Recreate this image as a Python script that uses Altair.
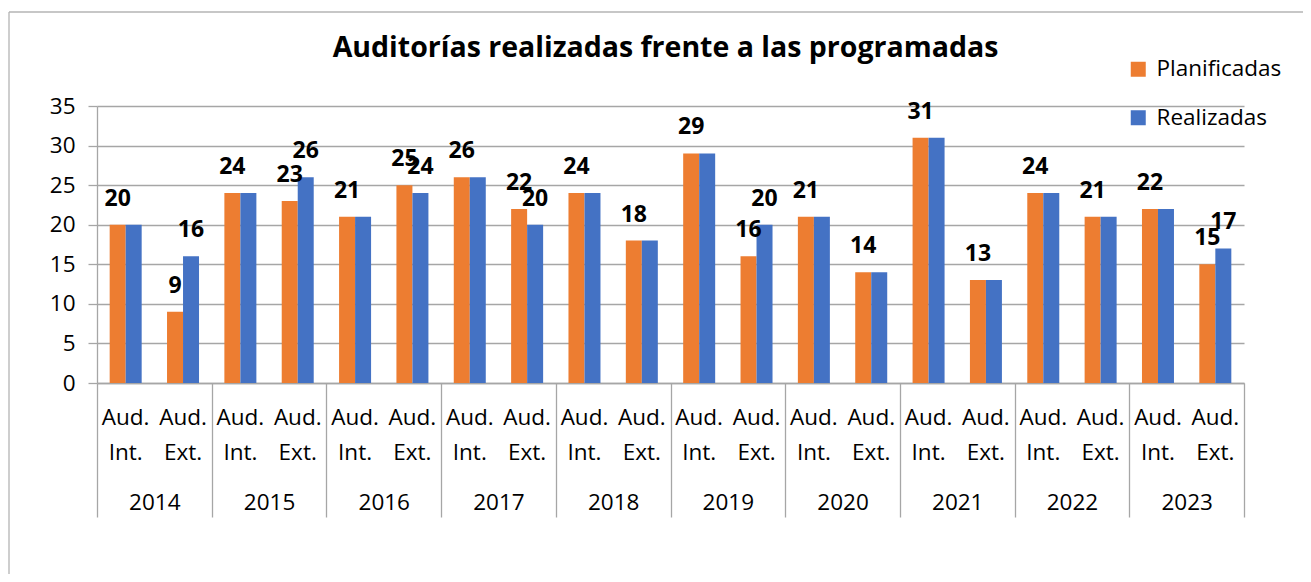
import altair as alt
import pandas as pd

years = ["2014", "2015", "2016", "2017", "2018", "2019", "2020", "2021", "2022", "2023"]
tipos = ["Aud. Int.", "Aud. Ext."]
series = ["Planificadas", "Realizadas"]
colors = ["#ED7D31", "#4472C4"]
y_ticks = [0, 5, 10, 15, 20, 25, 30, 35]

plan_int = [20, 24, 21, 26, 24, 29, 21, 31, 24, 22]
plan_ext = [9, 23, 25, 22, 18, 16, 14, 13, 21, 15]
real_int = [20, 24, 21, 26, 24, 29, 21, 31, 24, 22]
real_ext = [16, 26, 24, 20, 18, 20, 14, 13, 21, 17]

rows = []
cat_order = []
for i, yr in enumerate(years):
    for tipo, p, r in [(tipos[0], plan_int[i], real_int[i]), (tipos[1], plan_ext[i], real_ext[i])]:
        cat = f"{yr}|{tipo}"
        cat_order.append(cat)
        rows.append({"cat": cat, "year": yr, "serie": series[0], "value": p, "show": True})
        rows.append({"cat": cat, "year": yr, "serie": series[1], "value": r, "show": r != p})
df = pd.DataFrame(rows)
year_df = pd.DataFrame({"year": years})

W, H = 1147, 277
FONT = "Open Sans"
GRID = "#a6a6a6"

x_cat = alt.X(
    "cat:N", sort=cat_order,
    scale=alt.Scale(paddingInner=0.442, paddingOuter=0.221),
    axis=alt.Axis(title=None, orient="bottom",
                  labelExpr="split(split(datum.value, '|')[1], ' ')",
                  ticks=False, tickSize=0, labelPadding=23, labelAngle=0,
                  labelFont=FONT, labelFontSize=22.5, labelColor="#000",
                  labelLineHeight=35, labelBaseline="top", labelOverlap=False,
                  domainColor=GRID, domainWidth=1.3, grid=False),
)
x_off = alt.XOffset("serie:N", sort=series, scale=alt.Scale(paddingInner=0, paddingOuter=0))
y_val = alt.Y(
    "value:Q", scale=alt.Scale(domain=[0, 35], nice=False),
    axis=alt.Axis(title=None, values=y_ticks, tickCount=8, grid=True,
                  gridColor=GRID, gridWidth=1.3, tickSize=9, tickColor=GRID, tickWidth=1.3,
                  domain=True, domainColor=GRID, domainWidth=1.3, labelPadding=13,
                  labelFont=FONT, labelFontSize=22.5, labelColor="#000"),
)

bars = alt.Chart(df).mark_bar().encode(
    x=x_cat, xOffset=x_off, y=y_val,
    color=alt.Color("serie:N", sort=series,
                    scale=alt.Scale(domain=series, range=colors),
                    legend=alt.Legend(title=None, orient="none", legendX=1030, legendY=-48,
                                      symbolType="square", symbolSize=225, symbolStrokeWidth=0,
                                      labelFont=FONT, labelFontSize=22.5, labelColor="#000",
                                      labelOffset=7, rowPadding=25.5, padding=0)),
)

labels = alt.Chart(df).mark_text(
    dy=-19, baseline="alphabetic", font=FONT, fontSize=23, fontWeight="bold", color="#000"
).encode(
    x=x_cat, xOffset=x_off, y=y_val, text="value:Q"
).transform_filter("datum.show")

year_axis = alt.Chart(year_df).mark_tick(opacity=0).encode(
    x=alt.X("year:N", sort=years, scale=alt.Scale(paddingInner=0, paddingOuter=0),
            axis=alt.Axis(title=None, orient="bottom", tickBand="extent", tickSize=134,
                          tickColor=GRID, tickWidth=1.3, domain=False, labelPadding=-26,
                          labelBaseline="top", labelAngle=0, labelOverlap=False,
                          labelFont=FONT, labelFontSize=22.5, labelColor="#000")),
    y=alt.Y("year:N", axis=None),
)

frame_df = pd.DataFrame({"k": [0]})
frame_top = alt.Chart(frame_df).mark_rule(color="#b4b4b4", strokeWidth=1.3).encode(
    x=alt.value(-88), x2=alt.value(W + 60), y=alt.value(-94))
frame_left = alt.Chart(frame_df).mark_rule(color="#b4b4b4", strokeWidth=1.3).encode(
    x=alt.value(-88), y=alt.value(-94), y2=alt.value(H + 200))

base = alt.layer(bars, labels).resolve_scale(y="shared")
chart = alt.layer(base, year_axis, frame_top, frame_left).resolve_scale(
    x="independent", y="independent"
).properties(
    width=W, height=H,
    autosize=alt.AutoSizeParams(type="none"),
    padding={"left": 89, "top": 98, "right": 59, "bottom": 191},
    title=alt.TitleParams(text="Auditorías realizadas frente a las programadas",
                          font=FONT, fontSize=28.5, fontWeight="bold", color="#000",
                          anchor="middle", dx=-5, offset=-74, baseline="alphabetic"),
).configure_view(stroke="transparent")

chart.save("out.html", embed_options={"renderer": "svg", "actions": False})
